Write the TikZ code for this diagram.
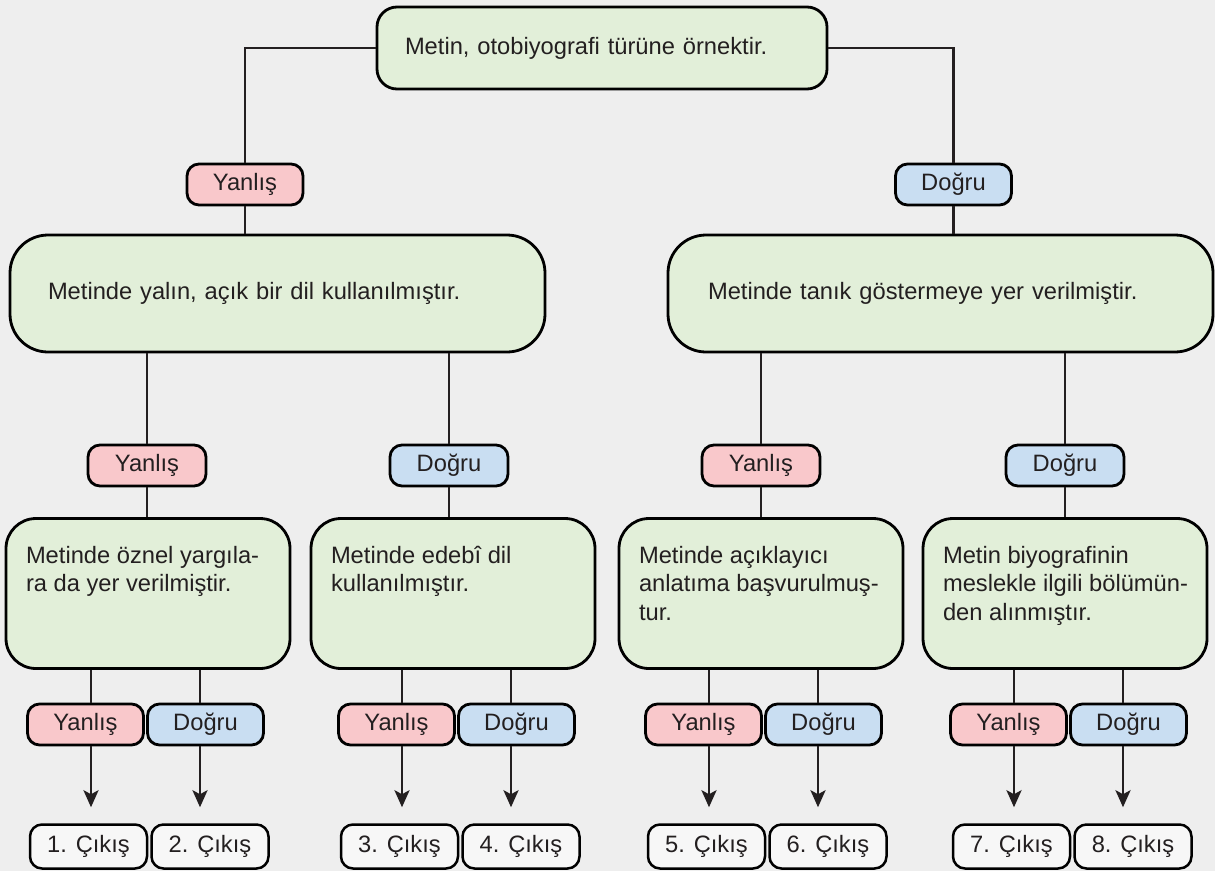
\documentclass[tikz,border=0pt]{standalone}
\usepackage{fontspec}
\setmainfont{Liberation Sans}
\usetikzlibrary{arrows.meta}
\definecolor{bgc}{HTML}{EEEEEE}
\definecolor{grc}{HTML}{E2EFD9}
\definecolor{pkc}{HTML}{F9C8CB}
\definecolor{blc}{HTML}{C9DEF2}
\definecolor{whc}{HTML}{F7F7F7}
\definecolor{txc}{HTML}{231F20}
\tikzset{
  every node/.style={font=\fontsize{23.7}{28.5}\selectfont, text=txc},
  gbox/.style={draw=black, line width=2.8pt, fill=grc, rounded corners=#1},
  lab/.style={draw=black, line width=2.8pt, rounded corners=12pt, minimum width=116pt, minimum height=41pt, inner sep=0pt},
  ylab/.style={lab, fill=pkc},
  dlab/.style={lab, fill=blc},
  exbox/.style={draw=black, line width=2.5pt, rounded corners=12pt, fill=whc, minimum width=117pt, minimum height=44pt, inner sep=0pt},
  conn/.style={line width=2.8pt, draw=txc},
  arr/.style={conn, -{Stealth[length=17pt,width=15pt,inset=4pt]}, shorten >=16pt}
}
\begin{document}
\begin{tikzpicture}[x=1pt,y=-1pt]
\fill[bgc] (0,0) rectangle (1215,871);
\useasboundingbox (0,0) rectangle (1215,871);

\node[gbox=20pt, text width=394pt, inner xsep=28pt, inner ysep=0pt, minimum height=82pt, align=left] (top) at (602,48) {Metin, otobiyografi türüne örnektir.};

\node[ylab] (ytop) at (245,184.5) {Yanlış};
\node[dlab] (dtop) at (953.5,184.5) {Doğru};

\node[gbox=38pt, text width=459pt, inner xsep=38pt, inner ysep=0pt, minimum height=117pt, align=left] (bigL) at (277.5,293.5) {Metinde yalın, açık bir dil kullanılmıştır.};
\node[gbox=38pt, text width=465pt, inner xsep=40pt, inner ysep=0pt, minimum height=117pt, align=left] (bigR) at (940.5,293.5) {Metinde tanık göstermeye yer verilmiştir.};

\node[ylab, minimum width=118pt] (m1) at (147,465.5) {Yanlış};
\node[dlab, minimum width=118pt] (m2) at (449,465.5) {Doğru};
\node[ylab, minimum width=118pt] (m3) at (761,465.5) {Yanlış};
\node[dlab, minimum width=118pt] (m4) at (1065,465.5) {Doğru};

\node[gbox=30pt, inner xsep=20pt, inner ysep=0pt] (b1) at (148,593.5) {\parbox[c][150pt][t]{244pt}{\raggedright\rule{0pt}{44.5pt}\mbox{Metinde öznel yargıla-}\\\mbox{ra da yer verilmiştir.}}};
\node[gbox=30pt, inner xsep=20pt, inner ysep=0pt] (b2) at (453,593.5) {\parbox[c][150pt][t]{244pt}{\raggedright\rule{0pt}{44.5pt}\mbox{Metinde edebî dil}\\\mbox{kullanılmıştır.}}};
\node[gbox=30pt, inner xsep=20pt, inner ysep=0pt] (b3) at (761,593.5) {\parbox[c][150pt][t]{244pt}{\raggedright\rule{0pt}{44.5pt}\mbox{Metinde açıklayıcı}\\\mbox{anlatıma başvurulmuş-}\\\mbox{tur.}}};
\node[gbox=30pt, inner xsep=20pt, inner ysep=0pt] (b4) at (1065,593.5) {\parbox[c][150pt][t]{244pt}{\raggedright\rule{0pt}{44.5pt}\mbox{Metin biyografinin}\\\mbox{meslekle ilgili bölümün-}\\\mbox{den alınmıştır.}}};

% top level connectors
\draw[conn] (top.west) -| (ytop.north);
\draw[conn] (top.east) -| (dtop.north);
\draw[conn] (ytop.south) -- (ytop.south |- bigL.north);
\draw[conn] (dtop.south) -- (dtop.south |- bigR.north);

% big boxes to middle labels
\draw[conn] (bigL.south -| m1.north) -- (m1.north);
\draw[conn] (bigL.south -| m2.north) -- (m2.north);
\draw[conn] (bigR.south -| m3.north) -- (m3.north);
\draw[conn] (bigR.south -| m4.north) -- (m4.north);

% middle labels to level-3 boxes
\draw[conn] (m1.south) -- (m1.south |- b1.north);
\draw[conn] (m2.south) -- (m2.south |- b2.north);
\draw[conn] (m3.south) -- (m3.south |- b3.north);
\draw[conn] (m4.south) -- (m4.south |- b4.north);

\foreach \i/\ca/\cb/\na/\nb in {1/91/200/1/2, 2/402/511/3/4, 3/709/818/5/6, 4/1014/1123/7/8} {
  \coordinate (ca\i) at (\ca,0);
  \coordinate (cb\i) at (\cb,0);
  \node[ylab] (ly\i) at (\ca-5.5,724.5) {Yanlış};
  \node[dlab] (ld\i) at (\cb+5.5,724.5) {Doğru};
  \node[exbox] (ex\na) at (\ca-2.5,846.5) {\na. Çıkış};
  \node[exbox] (ex\nb) at (\cb+10,846.5) {\nb. Çıkış};
  \draw[conn] (b\i.south -| ca\i) -- (ly\i.north -| ca\i);
  \draw[conn] (b\i.south -| cb\i) -- (ld\i.north -| cb\i);
  \draw[arr] (ly\i.south -| ca\i) -- (ex\na.north -| ca\i);
  \draw[arr] (ld\i.south -| cb\i) -- (ex\nb.north -| cb\i);
}
\end{tikzpicture}
\end{document}
